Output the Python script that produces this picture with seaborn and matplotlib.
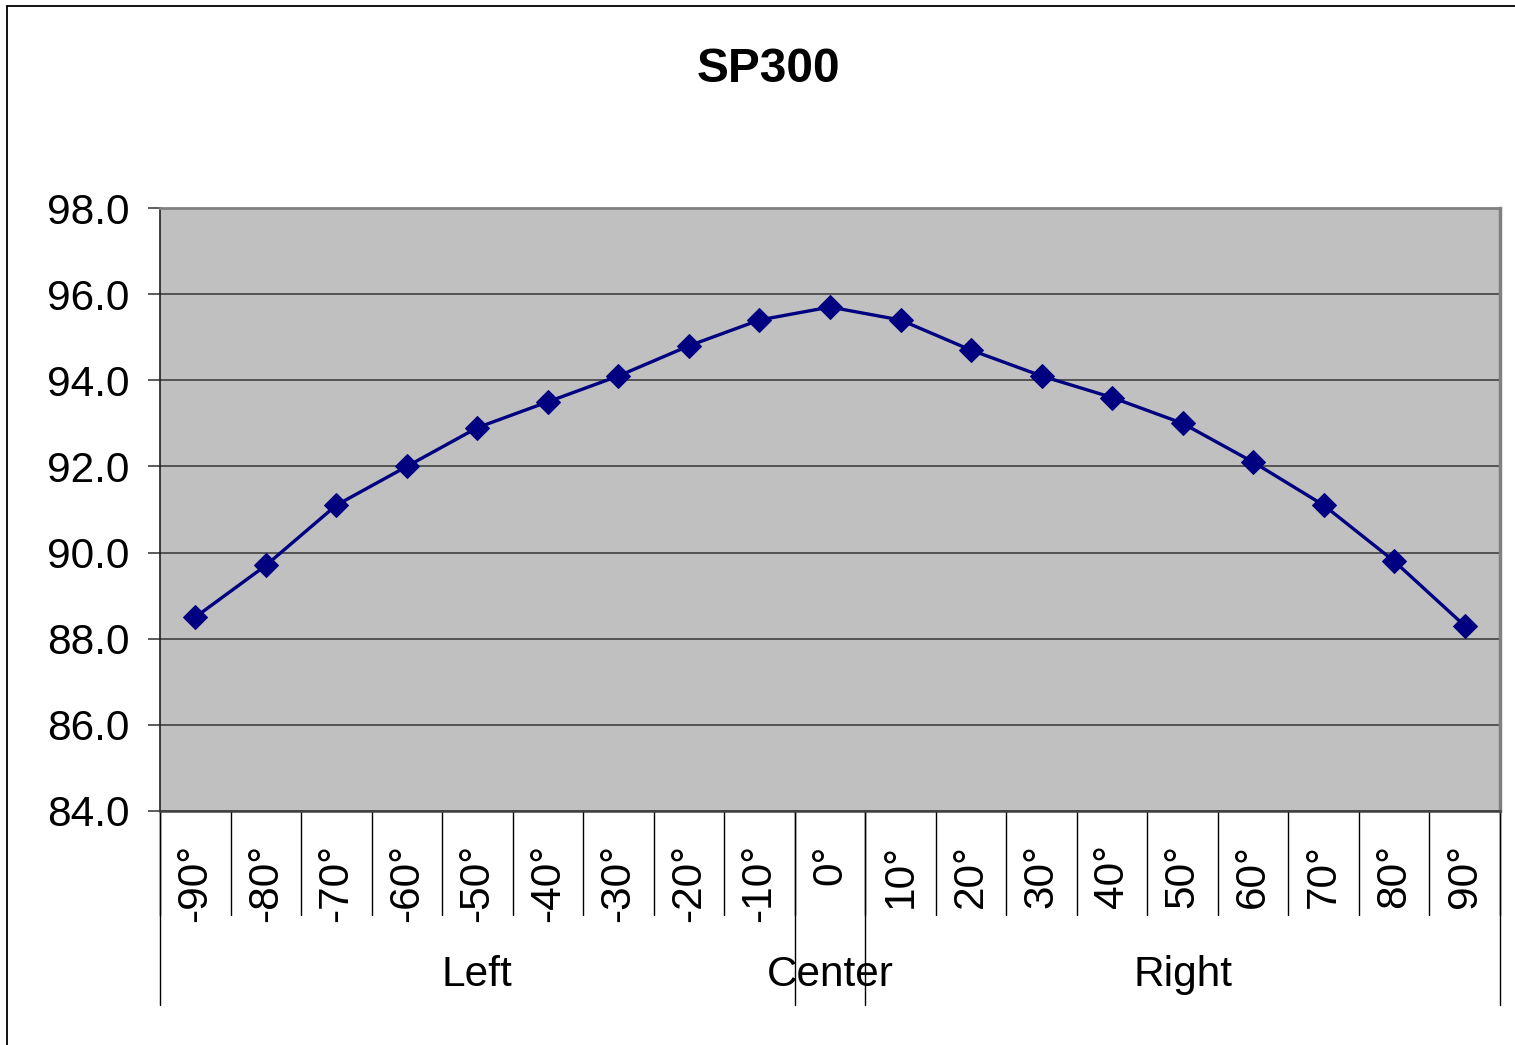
import matplotlib.pyplot as plt
import matplotlib.lines as mlines
import numpy as np
import pandas as pd
import seaborn as sns

# values
angles = ["-90°", "-80°", "-70°", "-60°", "-50°", "-40°", "-30°", "-20°", "-10°",
          "0°", "10°", "20°", "30°", "40°", "50°", "60°", "70°", "80°", "90°"]
sp300 = [88.5, 89.7, 91.1, 92.0, 92.9, 93.5, 94.1, 94.8, 95.4,
         95.7, 95.4, 94.7, 94.1, 93.6, 93.0, 92.1, 91.1, 89.8, 88.3]
groups = ["Left", "Center", "Right"]
group_sizes = [9, 1, 9]
y_ticks = [84.0, 86.0, 88.0, 90.0, 92.0, 94.0, 96.0, 98.0]

sns.set_style("white")
plt.rcParams["font.family"] = ["Liberation Sans", "DejaVu Sans"]
plt.rcParams["text.color"] = "black"
plt.rcParams["xtick.color"] = "black"
plt.rcParams["ytick.color"] = "black"
plt.rcParams["xtick.labelcolor"] = "black"
plt.rcParams["ytick.labelcolor"] = "black"

df = pd.DataFrame({"pos": np.arange(len(angles)), "value": sp300})

fig = plt.figure(figsize=(15.15, 10.45), dpi=100)
ax = fig.add_axes([160 / 1515, 1 - 811 / 1045, 1340 / 1515, 603 / 1045])
ax.set_facecolor("#C0C0C0")

sns.lineplot(data=df, x="pos", y="value", ax=ax, color="#000080", linewidth=2.4,
             marker="D", markersize=12.5, markeredgecolor="#000080", zorder=3)

ax.set_xlim(-0.5, len(angles) - 0.5)
ax.set_ylim(y_ticks[0], y_ticks[-1])
ax.set_yticks(y_ticks)
ax.set_yticklabels([f"{v:.1f}" for v in y_ticks], fontsize=30.5)
ax.yaxis.grid(True, color="#404040", linewidth=1.2)
ax.set_axisbelow(True)
ax.tick_params(axis="y", direction="out", length=9, width=1.2, color="#404040", pad=13, left=True)

ax.set_xticks(df["pos"])
ax.set_xticklabels(angles, rotation=90, fontsize=30.5)
ax.tick_params(axis="x", length=0, pad=24)
ax.set_xlabel("")
ax.set_ylabel("")

ax.spines["left"].set_color("#202020")
ax.spines["left"].set_linewidth(1.2)
ax.spines["bottom"].set_color("#404040")
ax.spines["bottom"].set_linewidth(1.8)
ax.spines["top"].set_color("#808080")
ax.spines["top"].set_linewidth(2)
ax.spines["right"].set_color("#808080")
ax.spines["right"].set_linewidth(2.5)

# multi-level category axis separators
trans = ax.get_xaxis_transform()
for b in np.arange(len(angles) + 1) - 0.5:
    ax.plot([b, b], [0, -0.1725], transform=trans, color="black", lw=1, clip_on=False)
edges = np.concatenate([[0], np.cumsum(group_sizes)]) - 0.5
for b in edges:
    ax.plot([b, b], [0, -0.3217], transform=trans, color="black", lw=1, clip_on=False)
for name, lo, hi in zip(groups, edges[:-1], edges[1:]):
    ax.text((lo + hi) / 2, -0.272, name, transform=trans, ha="center", va="center",
            fontsize=30.5)

fig.text(768 / 1515, 1 - 70 / 1045, "SP300", ha="center", va="center",
         fontsize=34.5, fontweight="bold")

# chart border
fig.add_artist(mlines.Line2D([6.5 / 1515, 6.5 / 1515], [0, 1 - 5.5 / 1045],
                             transform=fig.transFigure, color="black", lw=1.3))
fig.add_artist(mlines.Line2D([6.5 / 1515, 1], [1 - 5.5 / 1045, 1 - 5.5 / 1045],
                             transform=fig.transFigure, color="black", lw=1.3))

fig.savefig("out.png", dpi=100)
plt.close(fig)
